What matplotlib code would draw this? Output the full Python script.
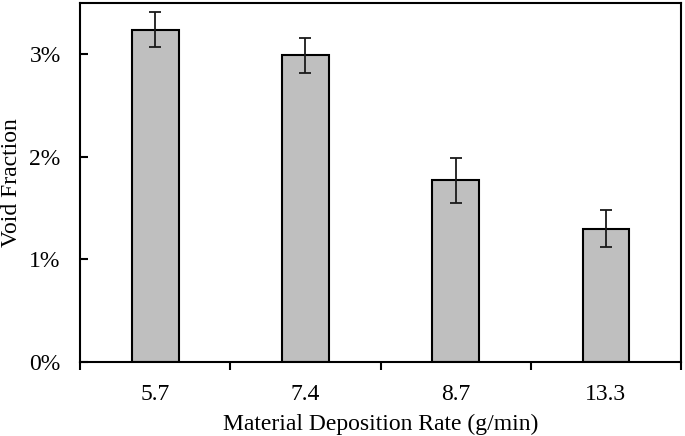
import matplotlib.pyplot as plt
import numpy as np
from matplotlib.ticker import FixedLocator, PercentFormatter

plt.rcParams['font.family'] = ['Liberation Serif', 'DejaVu Serif']

# data
rates = ['5.7', '7.4', '8.7', '13.3']
void_fraction = [3.24, 2.99, 1.77, 1.30]   # percent
void_err = [0.17, 0.17, 0.22, 0.18]

fig = plt.figure(figsize=(6.85, 4.36), dpi=100)
ax = fig.add_axes([0.117, 0.170, 0.877, 0.823])

x = np.arange(len(rates))
ax.bar(x, void_fraction, width=0.31, color='#bfbfbf', edgecolor='black', linewidth=1.5,
       yerr=void_err, capsize=4, error_kw=dict(ecolor='#1a1a1a', elinewidth=1.3, capthick=1.3))

ax.set_xlim(-0.5, len(rates) - 0.5)
ax.set_ylim(0, 3.5)
ax.set_yticks([0, 1, 2, 3])
ax.yaxis.set_major_formatter(PercentFormatter(decimals=0))

# category labels at centers, tick marks at boundaries
ax.set_xticks(x)
ax.set_xticklabels(rates)
ax.xaxis.set_minor_locator(FixedLocator(np.arange(-0.5, len(rates), 1.0)))
ax.tick_params(axis='x', which='major', length=0, pad=16, labelsize=17)
ax.tick_params(axis='x', which='minor', length=6, width=1.5, direction='out')
ax.tick_params(axis='y', which='major', length=6, width=1.5, direction='in', pad=14, labelsize=17)

for s in ax.spines.values():
    s.set_linewidth(1.5)

ax.set_xlabel('Material Deposition Rate (g/min)', fontsize=17, labelpad=6)
ax.set_ylabel('Void Fraction', fontsize=17, labelpad=5)

fig.savefig('out.png', dpi=100)
